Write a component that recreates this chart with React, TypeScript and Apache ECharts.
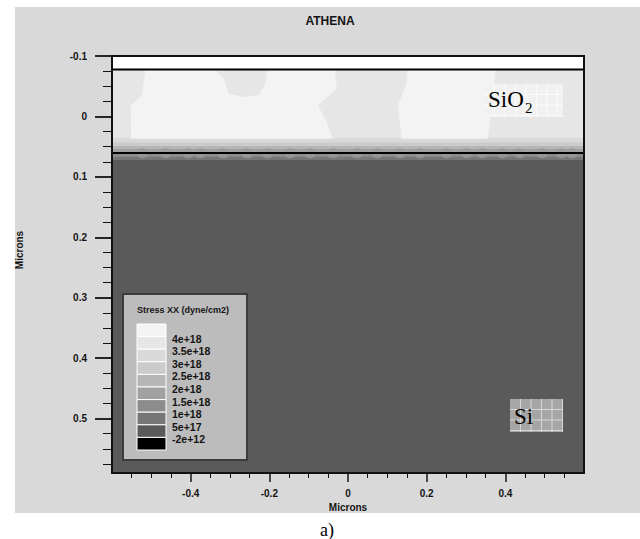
import React, { useEffect, useRef } from 'react';
import * as echarts from 'echarts';

// ---------- data ----------
const titleText = 'ATHENA';
const axisName = 'Microns';
const captionText = 'a)';
const xRange = [-0.6, 0.6];
const yRange = [-0.1, 0.59];
const xTickValues = [-0.4, -0.2, 0, 0.2, 0.4];
const yTickValues = [-0.1, 0, 0.1, 0.2, 0.3, 0.4, 0.5];

// stress contour legend (top = highest level)
const legendTitle = 'Stress XX (dyne/cm2)';
const stressLabels = ['4e+18', '3.5e+18', '3e+18', '2.5e+18', '2e+18', '1.5e+18', '1e+18', '5e+17', '-2e+12'];
const stressColors = ['#f3f3f3', '#e6e6e6', '#d9d9d9', '#cbcbcb', '#b6b6b6', '#a1a1a1', '#8c8c8c', '#767676', '#5a5a5a', '#000000'];

// horizontal layers: [top depth, bottom depth, stress level index (-1 = ambient)]
const layerBands = [
  [-0.1, -0.0778, -1],
  [-0.0778, 0.036, 1],
  [0.036, 0.043, 2],
  [0.043, 0.049, 3],
  [0.049, 0.054, 4],
  [0.054, 0.0604, 5],
  [0.0604, 0.066, 6],
  [0.066, 0.072, 7],
  [0.072, 0.59, 8],
];

// material interfaces (depth, microns)
const interfaceDepths = [-0.0778, 0.0604];

// high-stress grains in the oxide (level 0)
const oxidePatchA = [
  [-0.5146, -0.0778], [-0.3397, -0.0778], [-0.3184, -0.0657], [-0.3027, -0.0375],
  [-0.2611, -0.032], [-0.2256, -0.0358], [-0.2104, -0.0541], [-0.2053, -0.0778],
  [-0.0337, -0.0778], [-0.0286, -0.0458], [-0.076, -0.0181], [-0.0545, 0.009],
  [-0.039, 0.0371], [-0.5511, 0.0371], [-0.5526, -0.0181], [-0.5247, -0.0347],
];
const oxidePatchB = [
  [0.1521, -0.0778], [0.3752, -0.0778], [0.365, -0.0126], [0.3549, 0.0371],
  [0.1369, 0.0371], [0.1267, -0.0181], [0.147, -0.0512],
];
const oxidePatches = [oxidePatchA, oxidePatchB];
const patchItems = [[0, 0], [1, 0]];

// stress concentration nodes along the Si/SiO2 interface (x, microns)
const nodeX = [-0.522, -0.464, -0.406, -0.375, -0.317, -0.256, -0.205, -0.147, -0.096, -0.038, 0.023,
  0.074, 0.132, 0.183, 0.251, 0.302, 0.342, 0.393, 0.436, 0.494, 0.542, 0.57];
const nodeDepthAbove = 0.0565;
const nodeDepthBelow = 0.065;

const regionLabels = ['SiO', '2', 'Si'];

// ---------- chart ----------
const FONT = 'Liberation Sans, Arial, sans-serif';
const SERIF = 'Liberation Serif, Times New Roman, serif';
const INK = '#141414';

function buildLegend() {
  const x0 = 123, y0 = 294, w = 124, h = 166;
  const sx = 137, sy = 324, sw = 29, sh = 12.6;
  const out: any[] = [
    { type: 'rect', z: 100, shape: { x: x0, y: y0, width: w, height: h }, style: { fill: '#bcbcbc', stroke: '#3c3c3c', lineWidth: 2 } },
    { type: 'text', z: 101, x: sx, y: 310, style: { text: legendTitle, font: `bold 9px ${FONT}`, fill: INK, verticalAlign: 'middle' } },
  ];
  stressColors.forEach((c, i) => {
    out.push({ type: 'rect', z: 101, shape: { x: sx, y: sy + i * sh, width: sw, height: sh }, style: { fill: c, stroke: '#ffffff', lineWidth: 1 } });
  });
  stressLabels.forEach((t, i) => {
    out.push({ type: 'text', z: 101, x: 172, y: sy + (i + 1) * sh + 2, style: { text: t, font: `bold 10.5px ${FONT}`, fill: INK, verticalAlign: 'middle' } });
  });
  return out;
}

function gridLines(x: number, y: number, w: number, h: number, step: number, color: string) {
  const out: any[] = [];
  for (let gx = x + step; gx < x + w; gx += step) out.push({ type: 'line', z: 101, shape: { x1: gx, y1: y, x2: gx, y2: y + h }, style: { stroke: color, lineWidth: 1 } });
  for (let gy = y + step; gy < y + h; gy += step) out.push({ type: 'line', z: 101, shape: { x1: x, y1: gy, x2: x + w, y2: gy }, style: { stroke: color, lineWidth: 1 } });
  return out;
}

function buildRegionBoxes() {
  return [
    { type: 'rect', z: 100, shape: { x: 484, y: 84, width: 79, height: 33 }, style: { fill: '#f1f1f1' } },
    ...gridLines(484, 84, 79, 33, 10.5, '#fbfbfb'),
    { type: 'text', z: 102, x: 488, y: 111, style: { text: regionLabels[0], font: `23px ${SERIF}`, fill: '#000', verticalAlign: 'bottom' } },
    { type: 'text', z: 102, x: 525, y: 115, style: { text: regionLabels[1], font: `15px ${SERIF}`, fill: '#000', verticalAlign: 'bottom' } },
    { type: 'rect', z: 100, shape: { x: 510, y: 399, width: 53, height: 33 }, style: { fill: '#a6a6a6' } },
    ...gridLines(510, 399, 53, 33, 10.5, '#d8d8d8'),
    { type: 'text', z: 102, x: 514, y: 428, style: { text: regionLabels[2], font: `23px ${SERIF}`, fill: '#000', verticalAlign: 'bottom' } },
  ];
}

function buildOption() {
  const gridBox = { left: 112, top: 56, width: 472, height: 417 };
  return {
    animation: false,
    backgroundColor: '#ffffff',
    title: {
      text: titleText, left: 330, top: 15, textAlign: 'center', padding: 0,
      textStyle: { fontFamily: FONT, fontSize: 12, fontWeight: 'bold', color: INK },
    },
    grid: { ...gridBox, containLabel: false },
    xAxis: {
      type: 'value', min: xRange[0], max: xRange[1], interval: 0.2, position: 'bottom',
      axisLine: { show: true, onZero: false, lineStyle: { color: '#111', width: 2 } },
      axisTick: { show: true, customValues: xTickValues, length: 9, lineStyle: { color: INK, width: 1.5 } },
      minorTick: { show: true, splitNumber: 4, length: 5, lineStyle: { color: INK, width: 1 } },
      axisLabel: { customValues: xTickValues, margin: 15, color: INK, fontFamily: FONT, fontSize: 10, fontWeight: 'bold' },
      splitLine: { show: false },
      name: axisName, nameLocation: 'middle', nameGap: 29,
      nameTextStyle: { color: INK, fontFamily: FONT, fontSize: 10, fontWeight: 'bold' },
    },
    yAxis: {
      type: 'value', inverse: true, min: yRange[0], max: yRange[1], interval: 0.1, position: 'left',
      axisLine: { show: true, onZero: false, lineStyle: { color: '#111', width: 2 } },
      axisTick: { show: true, customValues: yTickValues, length: 17, lineStyle: { color: INK, width: 1.8 } },
      minorTick: { show: true, splitNumber: 4, length: 9, lineStyle: { color: INK, width: 1 } },
      axisLabel: { customValues: yTickValues, margin: 25, color: INK, fontFamily: FONT, fontSize: 10, fontWeight: 'bold' },
      splitLine: { show: false },
    },
    graphic: [
      { type: 'rect', z: -10, shape: { x: 15, y: 7, width: 625, height: 506 }, style: { fill: '#d9d9d9' } },
      { type: 'rect', z: 90, shape: { x: gridBox.left, y: gridBox.top, width: gridBox.width, height: gridBox.height }, style: { fill: 'none', stroke: '#111', lineWidth: 2 } },
      { type: 'text', z: 100, x: 19, y: 250, rotation: Math.PI / 2, style: { text: axisName, font: `bold 10px ${FONT}`, fill: INK, align: 'center', verticalAlign: 'middle' } },
      { type: 'text', z: 100, x: 327, y: 530, style: { text: captionText, font: `18px ${SERIF}`, fill: '#000', align: 'center', verticalAlign: 'middle' } },
      ...buildLegend(),
      ...buildRegionBoxes(),
    ],
    series: [
      {
        type: 'custom', name: 'layers', coordinateSystem: 'cartesian2d', z: 1, clip: true,
        data: layerBands,
        renderItem: (_p: any, api: any) => {
          const y0 = api.value(0), y1 = api.value(1), lvl = api.value(2);
          const a = api.coord([xRange[0], y0]);
          const b = api.coord([xRange[1], y1]);
          return {
            type: 'rect',
            shape: { x: a[0], y: a[1], width: b[0] - a[0], height: b[1] - a[1] },
            style: { fill: lvl < 0 ? '#ffffff' : stressColors[lvl] },
          };
        },
      },
      {
        type: 'custom', name: 'grains', coordinateSystem: 'cartesian2d', z: 2, clip: true,
        data: patchItems,
        renderItem: (_p: any, api: any) => {
          const idx = api.value(0), lvl = api.value(1);
          const pts = oxidePatches[idx].map((p) => api.coord(p));
          return { type: 'polygon', shape: { points: pts }, style: { fill: stressColors[lvl] } };
        },
      },
      {
        type: 'scatter', name: 'nodesAbove', z: 3, silent: true, symbol: 'circle', symbolSize: [10, 5],
        data: nodeX.map((x) => [x, nodeDepthAbove]),
        itemStyle: { color: '#9c9c9c', opacity: 0.8 },
      },
      {
        type: 'scatter', name: 'nodesBelow', z: 3, silent: true, symbol: 'circle', symbolSize: [10, 5],
        data: nodeX.map((x) => [x, nodeDepthBelow]),
        itemStyle: { color: '#9a9a9a', opacity: 0.7 },
      },
      ...interfaceDepths.map((d, i) => ({
        type: 'line', name: 'interface' + i, z: 5, symbol: 'none', silent: true,
        data: [[xRange[0], d], [xRange[1], d]],
        lineStyle: { color: '#000', width: 2 },
      })),
    ],
  };
}

export default function App() {
  const ref = useRef<HTMLDivElement>(null);
  useEffect(() => {
    const chart = echarts.init(ref.current!, null, { renderer: 'svg' });
    chart.setOption(buildOption() as any);
    return () => chart.dispose();
  }, []);
  return <div ref={ref} style={{ position: 'absolute', left: 0, top: 0, width: 640, height: 539 }} />;
}
